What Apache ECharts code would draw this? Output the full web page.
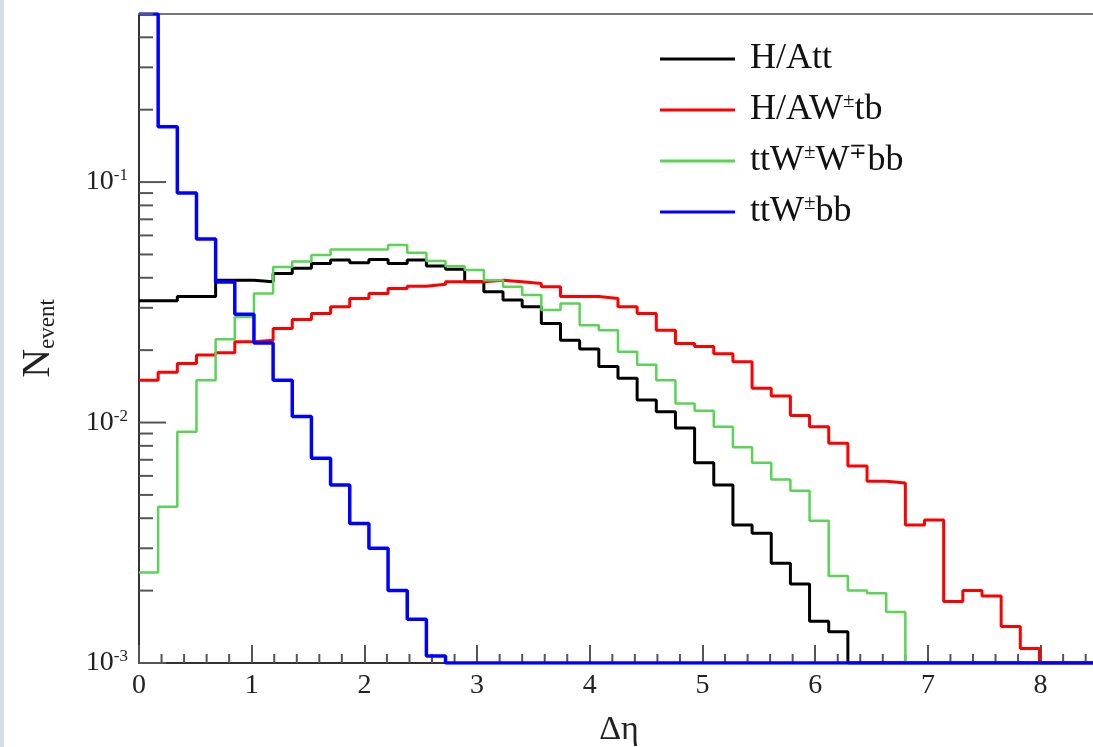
<!DOCTYPE html>
<html><head><meta charset="utf-8">
<script src="https://cdn.jsdelivr.net/npm/echarts@6/dist/echarts.min.js"></script>
<style>html,body{margin:0;padding:0;background:#fff}#c{width:1093px;height:747px}</style>
</head><body><div id="c"></div>
<script>
// ---- data (histograms, 50 bins of width 0.17 over 0..8.5) ----
const binWidth = 0.17;
const xMin = 0, xMax = 8.465;   // visible part of the 0..8.5 frame
const yMin = 0.001, yMax = 0.5;
const seriesNames = ['H/Att', 'H/AW±tb', 'ttW±W∓bb', 'ttW±bb'];
const seriesColors = ['#000000', '#ff0000', '#59d454', '#0000ff'];
const seriesWidths = [3, 3, 2.5, 3.5];

const hAtt = [0.0321,0.0321,0.0334,0.0334,0.0391,0.0391,0.0385,0.0417,0.0438,0.0459,
  0.0474,0.0462,0.0477,0.0459,0.0474,0.0448,0.0434,0.0385,0.0350,0.0323,
  0.0303,0.0258,0.0220,0.0202,0.0171,0.0153,0.0124,0.0111,0.0095,0.0068,
  0.0055,0.00375,0.00346,0.0026,0.00213,0.00149,0.00135,0,0,0,
  0,0,0,0,0,0,0,0,0,0];
const hAWtb = [0.0150,0.0162,0.0176,0.0191,0.0195,0.0217,0.0220,0.0246,0.0268,0.0284,
  0.0303,0.0328,0.0344,0.0361,0.0369,0.0376,0.0385,0.0385,0.0391,0.0385,
  0.0379,0.0367,0.0334,0.0334,0.0328,0.0303,0.0284,0.0242,0.0213,0.0207,
  0.0193,0.0179,0.0139,0.0129,0.0107,0.0096,0.0082,0.0066,0.0057,0.0056,
  0.00375,0.00393,0.0018,0.0020,0.0019,0.00142,0.00115,0,0,0];
const ttWWbb = [0.00238,0.00447,0.00916,0.0150,0.0222,0.0275,0.0344,0.0443,0.0467,0.0497,
  0.0524,0.0524,0.0524,0.0547,0.0508,0.0470,0.0447,0.0431,0.0391,0.0367,
  0.0339,0.0294,0.0313,0.0254,0.0242,0.0197,0.0174,0.0150,0.0120,0.0112,
  0.0096,0.0079,0.0068,0.0058,0.0052,0.0039,0.0023,0.0020,0.00195,0.00163,
  0,0,0,0,0,0,0,0,0,0];
const ttWbb = [0.5,0.170,0.090,0.058,0.0384,0.0282,0.0214,0.0150,0.0106,0.0071,
  0.0055,0.0038,0.0030,0.0020,0.00152,0.00107,0,0,0,0,
  0,0,0,0,0,0,0,0,0,0,
  0,0,0,0,0,0,0,0,0,0,
  0,0,0,0,0,0,0,0,0,0];
const seriesValues = [hAtt, hAWtb, ttWWbb, ttWbb];

// axis tick positions
const xTickInterval = 1;
const xMinorTicks = [0.2,0.4,0.6,0.8,1.2,1.4,1.6,1.8,2.2,2.4,2.6,2.8,3.2,3.4,3.6,3.8,
  4.2,4.4,4.6,4.8,5.2,5.4,5.6,5.8,6.2,6.4,6.6,6.8,7.2,7.4,7.6,7.8,8.2,8.4];
const yTickValues = [0.001,0.002,0.003,0.004,0.005,0.006,0.007,0.008,0.009,
  0.01,0.02,0.03,0.04,0.05,0.06,0.07,0.08,0.09,
  0.1,0.2,0.3,0.4,0.5];

// ---- build ----
const FONT = 'Liberation Serif';
function histPoints(vals) {
  const pts = vals.map((v, i) => [+(i * binWidth).toFixed(4), Math.max(v, yMin)]);
  pts.push([+(vals.length * binWidth).toFixed(4), Math.max(vals[vals.length - 1], yMin)]);
  return pts;
}
function isDecade(v) { const e = Math.log10(v); return Math.abs(e - Math.round(e)) < 1e-6; }

const lineSeries = seriesNames.map((n, i) => ({
  name: n, type: 'line', step: 'end', symbol: 'none', clip: true, z: 3 + i,
  data: histPoints(seriesValues[i]),
  lineStyle: { color: seriesColors[i], width: seriesWidths[i] },
  itemStyle: { color: seriesColors[i] }
}));

const chart = echarts.init(document.getElementById('c'), null, { renderer: 'canvas' });
chart.setOption({
  animation: false,
  backgroundColor: '#ffffff',
  graphic: [{ type: 'rect', left: 0, top: 0, shape: { width: 4, height: 747 }, style: { fill: '#d3dfe7' }, z: -1 }],
  grid: { left: 139, top: 14, right: 0, bottom: 84, show: false, outerBoundsMode: 'none', containLabel: false },
  legend: {
    orient: 'vertical', left: 660, top: 41, padding: 0,
    icon: 'rect', itemWidth: 75, itemHeight: 3, itemGap: 14,
    data: seriesNames,
    formatter: n => n.replace(/[^±∓]+/g, m => '{n|' + m + '}').replace(/([±∓])/g, '{s|$1}'),
    textStyle: {
      color: '#111', fontFamily: FONT, fontSize: 36, padding: [0, 0, 0, 10],
      rich: {
        n: { fontFamily: FONT, fontSize: 36, lineHeight: 38, color: '#111' },
        s: { fontFamily: FONT, fontSize: 21, lineHeight: 20, verticalAlign: 'top', color: '#111' }
      }
    }
  },
  xAxis: [{
    type: 'value', min: xMin, max: xMax, interval: xTickInterval,
    axisLine: { onZero: false, lineStyle: { color: '#333', width: 2 } },
    axisTick: { inside: true, length: 18, lineStyle: { color: '#555', width: 2 } },
    splitLine: { show: false },
    axisLabel: { showMaxLabel: false, margin: 9, fontSize: 28, fontFamily: FONT, color: '#222' },
    name: 'Δη', nameLocation: 'middle', nameGap: 50,
    nameTextStyle: { fontSize: 34, fontFamily: FONT, color: '#222', padding: [0, 0, 0, 6] }
  }, {
    type: 'value', position: 'top', min: xMin, max: xMax,
    axisLine: { show: true, onZero: false, lineStyle: { color: '#777', width: 2 } },
    axisTick: { show: false }, axisLabel: { show: false }, splitLine: { show: false }
  }],
  yAxis: {
    type: 'log', logBase: 10, min: yMin, max: yMax,
    axisLine: { show: true, lineStyle: { color: '#333', width: 2 } },
    axisTick: { show: false }, splitLine: { show: false },
    axisLabel: {
      margin: 11,
      formatter: v => isDecade(v) ? '{b|10}{e|' + Math.round(Math.log10(v)) + '}' : '',
      rich: {
        b: { fontFamily: FONT, fontSize: 28, lineHeight: 30, color: '#222' },
        e: { fontFamily: FONT, fontSize: 17, lineHeight: 18, verticalAlign: 'top', color: '#222' }
      }
    },
    name: '{n|N}{s|event}', nameLocation: 'middle', nameRotate: 90, nameGap: 80,
    nameTextStyle: {
      rich: {
        n: { fontFamily: FONT, fontSize: 40, lineHeight: 42, color: '#222' },
        s: { fontFamily: FONT, fontSize: 23, lineHeight: 24, verticalAlign: 'bottom', color: '#222' }
      }
    }
  },
  series: lineSeries.concat([
    {
      type: 'custom', name: 'yticks', silent: true, z: 10,
      data: yTickValues.map(v => [xMin, v]),
      renderItem: (params, api) => {
        const v = api.value(1); const p = api.coord([xMin, v]);
        const len = isDecade(v) ? 27 : 14;
        return { type: 'line', shape: { x1: p[0], y1: p[1], x2: p[0] + len, y2: p[1] }, style: { stroke: '#555', lineWidth: 2 } };
      }
    },
    {
      type: 'custom', name: 'xminor', silent: true, z: 1,
      data: xMinorTicks.map(v => [v, yMin]),
      renderItem: (params, api) => {
        const p = api.coord([api.value(0), yMin]);
        return { type: 'line', shape: { x1: p[0], y1: p[1], x2: p[0], y2: p[1] - 9 }, style: { stroke: '#555', lineWidth: 2 } };
      }
    }
  ])
});
</script></body></html>
